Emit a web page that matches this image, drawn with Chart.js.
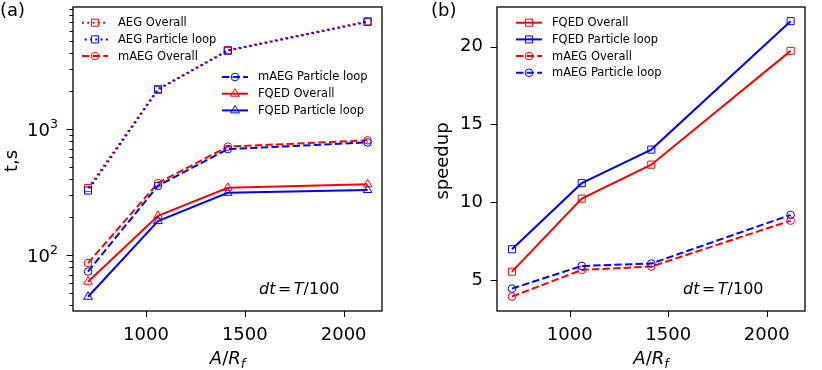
<!DOCTYPE html>
<html>
<head>
<meta charset="utf-8">
<script src="https://cdn.jsdelivr.net/npm/chart.js@4.4.0/dist/chart.umd.min.js"></script>
<style>
    html, body { margin: 0; padding: 0; background: #fff; }
    .panel { position: absolute; top: 0; width: 411px; height: 370px; }
</style>
</head>
<body>
<div class="panel" style="left:0"><canvas id="timeChart" width="411" height="370"></canvas></div>
<div class="panel" style="left:411px"><canvas id="speedChart" width="411" height="370"></canvas></div>
<script>
// A/R_f values, shared by both panels
const xValues = [707, 1061, 1414, 2121];
const xTicks = [1000, 1500, 2000];

// panel (a): run time, s
const aegOverall = [340, 2080, 4220, 7150];
const aegLoop = [325, 2050, 4180, 7080];
const maegOverall = [86.5, 373, 725, 813];
const maegLoop = [74, 355, 693, 783];
const fqedOverall = [61.5, 205, 342, 364];
const fqedLoop = [46.7, 186, 312, 328];
const logMajorTicks = [100, 1000];
const logMinorTicks = [40, 50, 60, 70, 80, 90, 200, 300, 400, 500, 600, 700, 800, 900,
    2000, 3000, 4000, 5000, 6000, 7000, 8000, 9000];

// panel (b): speedup
const fqedOverallSpeedup = [5.53, 10.23, 12.41, 19.73];
const fqedLoopSpeedup = [6.97, 11.22, 13.38, 21.64];
const maegOverallSpeedup = [3.93, 5.64, 5.86, 8.81];
const maegLoopSpeedup = [4.44, 5.90, 6.05, 9.18];
const speedupTicks = [5, 10, 15, 20];

const RED = '#ff0000';
const BLUE = '#0000ff';
const FONT = '"DejaVu Sans", sans-serif';
const DOTTED = [2, 3.3];
const DASHED = [7.4, 3.2];

function points(ys) {
    return xValues.map((x, i) => ({ x: x, y: ys[i] }));
}

function series(label, ys, color, dash, marker, order, dashOffset) {
    const radius = marker === 'circle' ? 3.8 : 5;
    return {
        label: label,
        data: points(ys),
        borderColor: color,
        borderWidth: 2,
        borderDash: dash,
        borderDashOffset: dashOffset || 0,
        pointStyle: marker,
        pointRadius: radius,
        pointBorderWidth: 1,
        pointBorderColor: color,
        pointBackgroundColor: 'rgba(0,0,0,0)',
        tension: 0,
        order: order
    };
}

// draw pieces of text with their own fonts side by side (for the math labels)
function drawRuns(ctx, runs, x, y, align) {
    let total = 0;
    runs.forEach(r => { ctx.font = r.font; total += ctx.measureText(r.t).width + (r.gap || 0); });
    let cx = align === 'center' ? x - total / 2 : (align === 'right' ? x - total : x);
    ctx.textAlign = 'left';
    ctx.textBaseline = 'alphabetic';
    runs.forEach(r => {
        ctx.font = r.font;
        ctx.fillText(r.t, cx, y + (r.dy || 0));
        cx += ctx.measureText(r.t).width + (r.gap || 0);
    });
}

function dtLabel(ctx, x, y) {
    const it = 'italic 16px ' + FONT, up = '16px ' + FONT;
    drawRuns(ctx, [
        { t: 'd', font: it }, { t: 't', font: it, gap: 2.5 },
        { t: '=', font: up, gap: 2.5 },
        { t: 'T', font: it }, { t: '/100', font: up }
    ], x, y, 'left');
}

function xTitle(ctx, x, y) {
    const it = 'italic 18px ' + FONT;
    drawRuns(ctx, [
        { t: 'A', font: it }, { t: '/', font: '18px ' + FONT },
        { t: 'R', font: it }, { t: 'f', font: 'italic 12.6px ' + FONT, dy: 4 }
    ], x, y, 'center');
}

const framePlugin = {
    id: 'frame',
    afterDraw(chart, args, opts) {
        const ctx = chart.ctx;
        const a = chart.chartArea;
        const xs = chart.scales.x;
        const ys = chart.scales.y;
        ctx.save();
        ctx.strokeStyle = '#000';
        ctx.fillStyle = '#000';
        ctx.lineWidth = 1.3;
        ctx.strokeRect(a.left, a.top, a.right - a.left, a.bottom - a.top);

        // tick marks
        ctx.lineWidth = 1;
        ctx.beginPath();
        xs.ticks.forEach(t => {
            const px = Math.round(xs.getPixelForValue(t.value)) + 0.5;
            ctx.moveTo(px, a.bottom);
            ctx.lineTo(px, a.bottom + 6);
        });
        ys.ticks.forEach(t => {
            const py = Math.round(ys.getPixelForValue(t.value)) + 0.5;
            ctx.moveTo(a.left, py);
            ctx.lineTo(a.left - (t.major ? 6.5 : 3.5), py);
        });
        ctx.stroke();

        // log labels 10^n
        if (opts.logLabels) {
            ys.ticks.filter(t => t.major).forEach(t => {
                const py = ys.getPixelForValue(t.value);
                const exp = String(Math.round(Math.log10(t.value)));
                drawRuns(ctx, [
                    { t: '10', font: '18px ' + FONT },
                    { t: exp, font: '12.6px ' + FONT, dy: -8 }
                ], a.left - 15, py + 6.5, 'right');
            });
        }

        // axis titles
        ctx.font = '18px ' + FONT;
        ctx.save();
        ctx.translate(opts.yTitleX, (a.top + a.bottom) / 2 + 2);
        ctx.rotate(-Math.PI / 2);
        ctx.textAlign = 'center';
        ctx.textBaseline = 'alphabetic';
        ctx.fillText(opts.yTitle, 0, 0);
        ctx.restore();
        xTitle(ctx, (a.left + a.right) / 2, 363.5);

        // panel tag
        ctx.font = '18px ' + FONT;
        ctx.textAlign = 'left';
        ctx.textBaseline = 'alphabetic';
        ctx.fillText(opts.tag, opts.tagX, 16);

        dtLabel(ctx, opts.dtX, 294);

        // legends
        opts.legends.forEach(g => {
            g.items.forEach((idx, k) => {
                const ds = chart.data.datasets[idx];
                const y = g.y + k * 16.7;
                ctx.save();
                ctx.strokeStyle = ds.borderColor;
                ctx.lineWidth = ds.borderWidth;
                ctx.setLineDash(ds.borderDash);
                ctx.lineDashOffset = ds.borderDashOffset;
                ctx.beginPath();
                ctx.moveTo(g.x, y);
                ctx.lineTo(g.x + 26, y);
                ctx.stroke();
                ctx.setLineDash([]);
                ctx.lineWidth = ds.pointBorderWidth;
                ctx.fillStyle = 'rgba(0,0,0,0)';
                Chart.helpers.drawPoint(ctx, {
                    pointStyle: ds.pointStyle,
                    radius: ds.pointRadius,
                    borderWidth: ds.pointBorderWidth,
                    rotation: 0
                }, g.x + 13, y);
                ctx.restore();
                ctx.fillStyle = '#000';
                ctx.font = '11.5px ' + FONT;
                ctx.textAlign = 'left';
                ctx.textBaseline = 'middle';
                ctx.fillText(ds.label, g.x + 36, y + 0.5);
            });
        });
        ctx.restore();
    }
};

function xScale() {
    return {
        type: 'linear',
        bounds: 'data',
        min: 631,
        max: 2194,
        afterBuildTicks: s => { s.ticks = xTicks.map(v => ({ value: v, major: true })); },
        afterFit: s => { s.height = 59; },
        grid: { display: false, drawTicks: false },
        border: { display: false },
        ticks: {
            autoSkip: false,
            maxRotation: 0,
            padding: 14,
            color: '#000',
            font: { family: FONT, size: 18 },
            callback: v => String(v)
        }
    };
}

function showTiming() {
    const ctx = document.getElementById('timeChart').getContext('2d');
    new Chart(ctx, {
        type: 'line',
        data: {
            datasets: [
                series('AEG Overall', aegOverall, RED, DOTTED, 'rect', 6),
                series('AEG Particle loop', aegLoop, BLUE, DOTTED, 'rect', 5, 2.65),
                series('mAEG Overall', maegOverall, RED, DASHED, 'circle', 4),
                series('mAEG Particle loop', maegLoop, BLUE, DASHED, 'circle', 3),
                series('FQED Overall', fqedOverall, RED, [], 'triangle', 2),
                series('FQED Particle loop', fqedLoop, BLUE, [], 'triangle', 1)
            ]
        },
        options: {
            responsive: false,
            animation: false,
            layout: { padding: { left: 0, right: 29, top: 7, bottom: 0 } },
            scales: {
                x: xScale(),
                y: {
                    type: 'logarithmic',
                    min: 36,
                    max: 9290,
                    afterBuildTicks: s => {
                        s.ticks = logMajorTicks.concat(logMinorTicks).sort((p, q) => p - q)
                            .map(v => ({ value: v, major: logMajorTicks.includes(v) }));
                    },
                    afterFit: s => { s.width = 73; s.paddingTop = 0; s.paddingBottom = 0; },
                    grid: { display: false, drawTicks: false },
                    border: { display: false },
                    ticks: { display: false }
                }
            },
            plugins: {
                legend: { display: false },
                tooltip: { enabled: false },
                frame: {
                    logLabels: true,
                    yTitle: 't,s',
                    yTitleX: 16.5,
                    tag: '(a)',
                    tagX: 0,
                    dtX: 259,
                    legends: [
                        { x: 82, y: 22.7, items: [0, 1, 2] },
                        { x: 222, y: 77, items: [3, 4, 5] }
                    ]
                }
            }
        },
        plugins: [framePlugin]
    });
}

function showSpeedup() {
    const ctx = document.getElementById('speedChart').getContext('2d');
    new Chart(ctx, {
        type: 'line',
        data: {
            datasets: [
                series('FQED Overall', fqedOverallSpeedup, RED, [], 'rect', 4),
                series('FQED Particle loop', fqedLoopSpeedup, BLUE, [], 'rect', 3),
                series('mAEG Overall', maegOverallSpeedup, RED, DASHED, 'circle', 2),
                series('mAEG Particle loop', maegLoopSpeedup, BLUE, DASHED, 'circle', 1)
            ]
        },
        options: {
            responsive: false,
            animation: false,
            layout: { padding: { left: 0, right: 17, top: 7, bottom: 0 } },
            scales: {
                x: xScale(),
                y: {
                    type: 'linear',
                    bounds: 'data',
                    min: 3.0,
                    max: 22.55,
                    afterBuildTicks: s => { s.ticks = speedupTicks.map(v => ({ value: v, major: true })); },
                    afterFit: s => { s.width = 86; s.paddingTop = 0; s.paddingBottom = 0; },
                    grid: { display: false, drawTicks: false },
                    border: { display: false },
                    ticks: { autoSkip: false, padding: 14, color: '#000', font: { family: FONT, size: 18 } }
                }
            },
            plugins: {
                legend: { display: false },
                tooltip: { enabled: false },
                frame: {
                    logLabels: false,
                    yTitle: 'speedup',
                    yTitleX: 37,
                    tag: '(b)',
                    tagX: 20,
                    dtX: 272,
                    legends: [
                        { x: 105, y: 22.7, items: [0, 1, 2, 3] }
                    ]
                }
            }
        },
        plugins: [framePlugin]
    });
}

document.addEventListener('DOMContentLoaded', (event) => {
    showTiming();
    showSpeedup();
});
</script>
</body>
</html>
